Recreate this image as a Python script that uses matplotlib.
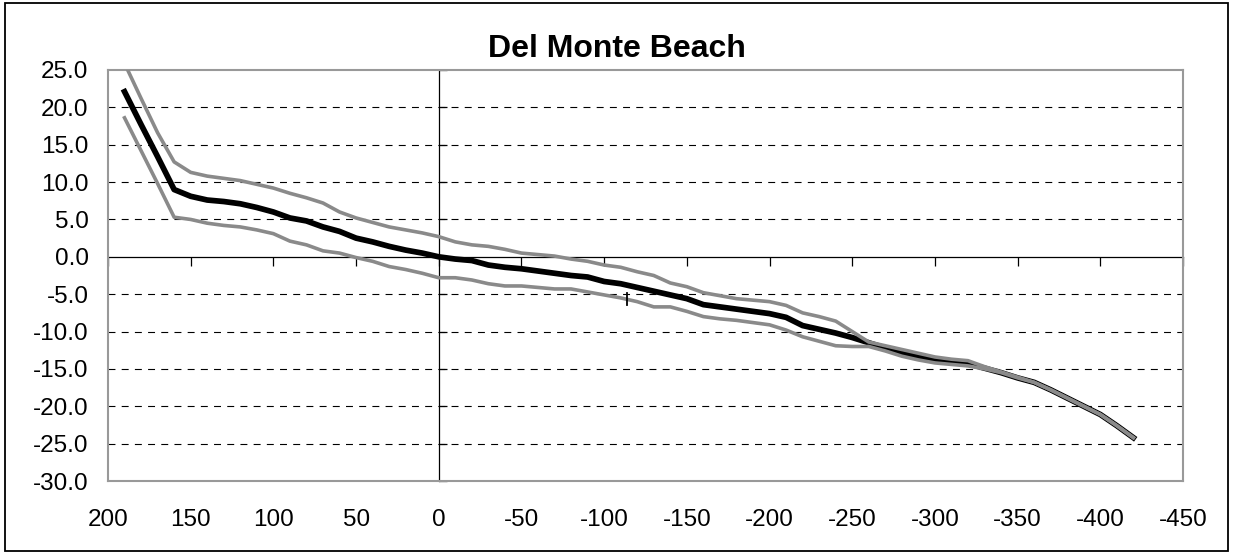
import matplotlib.pyplot as plt
import numpy as np
from matplotlib.patches import Rectangle

plt.rcParams['font.family'] = ['Liberation Sans', 'DejaVu Sans']
plt.rcParams['lines.scale_dashes'] = False

# distance along shore (reversed axis) and the three profiles
dist = np.arange(190, -421, -10)

mid = np.array([22.1, 17.7, 13.4, 9.0, 8.1, 7.6, 7.4, 7.1, 6.6, 6.0,
                5.2, 4.8, 4.0, 3.4, 2.5, 2.0, 1.4, 0.9, 0.5, 0.0,
                -0.3, -0.5, -1.1, -1.4, -1.6, -1.9, -2.2, -2.5, -2.7, -3.3,
                -3.6, -4.1, -4.6, -5.1, -5.6, -6.4, -6.7, -7.0, -7.3, -7.6,
                -8.1, -9.2, -9.7, -10.2, -10.8, -11.5, -12.2, -12.9, -13.4, -13.8,
                -14.0, -14.3, -14.9, -15.5, -16.2, -16.8, -17.8, -18.9, -20.0, -21.1,
                -22.6, -24.2])

upper = np.array([25.9, 21.2, 16.6, 12.7, 11.3, 10.8, 10.5, 10.2, 9.7, 9.2,
                  8.5, 7.9, 7.2, 6.0, 5.2, 4.6, 4.0, 3.6, 3.2, 2.7,
                  2.0, 1.6, 1.4, 1.0, 0.5, 0.3, 0.1, -0.3, -0.6, -1.1,
                  -1.4, -2.0, -2.5, -3.5, -4.0, -4.8, -5.2, -5.6, -5.8, -6.0,
                  -6.5, -7.5, -8.0, -8.6, -10.0, -11.4, -11.9, -12.4, -12.9, -13.4,
                  -13.7, -13.9, -14.7, -15.4, -16.1, -16.8, -17.8, -18.9, -20.0, -21.1,
                  -22.6, -24.2])

lower = np.array([18.6, 14.2, 9.8, 5.3, 5.0, 4.5, 4.2, 4.0, 3.6, 3.1,
                  2.1, 1.6, 0.8, 0.5, -0.1, -0.6, -1.3, -1.7, -2.2, -2.8,
                  -2.8, -3.1, -3.6, -3.9, -3.9, -4.1, -4.3, -4.3, -4.7, -5.1,
                  -5.5, -6.0, -6.7, -6.7, -7.3, -8.0, -8.3, -8.5, -8.8, -9.1,
                  -9.8, -10.7, -11.3, -11.9, -12.0, -12.0, -12.6, -13.3, -13.8, -14.2,
                  -14.4, -14.6, -15.0, -15.5, -16.2, -16.8, -17.8, -18.9, -20.0, -21.1,
                  -22.6, -24.2])

# small stray mark near -114
mark_x = [-114, -114]
mark_y = [-4.8, -6.4]

xticks = [200, 150, 100, 50, 0, -50, -100, -150, -200, -250, -300, -350, -400, -450]
yticks = [25, 20, 15, 10, 5, 0, -5, -10, -15, -20, -25, -30]
xlabels = [str(v) for v in xticks]
ylabels = ['%.1f' % v for v in yticks]

fig = plt.figure(figsize=(12.33, 5.52), dpi=100)
pos = [108 / 1233, 1 - 481 / 552, 1075 / 1233, 411 / 552]
ax = fig.add_axes(pos)

for v in yticks:
    if v not in (25, 0, -30):
        ax.axhline(v, color='black', lw=0.8, dashes=(5.0, 4.5), zorder=1)

ax.plot(dist, mid, color='black', lw=4.1, zorder=3, solid_joinstyle='round')
ax.plot(dist, upper, color='#8a8a8a', lw=2.6, zorder=4, solid_joinstyle='round')
ax.plot(dist, lower, color='#8a8a8a', lw=2.6, zorder=4, solid_joinstyle='round')
ax.plot(mark_x, mark_y, color='black', lw=1.3, zorder=5)

ax.set_xlim(200, -450)
ax.set_ylim(-30, 25)
ax.set_xticks(xticks)
ax.set_xticklabels(xlabels)
ax.set_yticks(yticks)
ax.set_yticklabels(ylabels)
ax.tick_params(length=0, labelsize=17.5)
ax.tick_params(axis='x', pad=20)
ax.tick_params(axis='y', pad=14)
for s in ax.spines.values():
    s.set_color('#999999')
    s.set_linewidth(1.5)

fig.text(617 / 1233, 1 - 57 / 552, 'Del Monte Beach', fontsize=23,
         fontweight='bold', ha='center', va='baseline')

# crossing axes through the origin
ax2 = fig.add_axes(pos, sharex=ax, sharey=ax)
ax2.patch.set_visible(False)
ax2.spines['top'].set_visible(False)
ax2.spines['right'].set_visible(False)
ax2.spines['left'].set_position(('data', 0))
ax2.spines['bottom'].set_position(('data', 0))
for k in ('left', 'bottom'):
    ax2.spines[k].set_color('black')
    ax2.spines[k].set_linewidth(0.9)
ax2.tick_params(labelleft=False, labelbottom=False, width=0.9, color='black')
ax2.tick_params(axis='x', direction='out', length=6.5)
ax2.tick_params(axis='y', direction='in', length=6)
ax2.set_zorder(0.5)
ax.set_zorder(1)
ax.patch.set_visible(False)

fig.patches.append(Rectangle((5 / 1233, 0.002), 1223 / 1233, 1 - 3 / 552 - 0.002,
                             transform=fig.transFigure, fill=False,
                             edgecolor='black', lw=1.3))

fig.savefig('out.png', dpi=100)
